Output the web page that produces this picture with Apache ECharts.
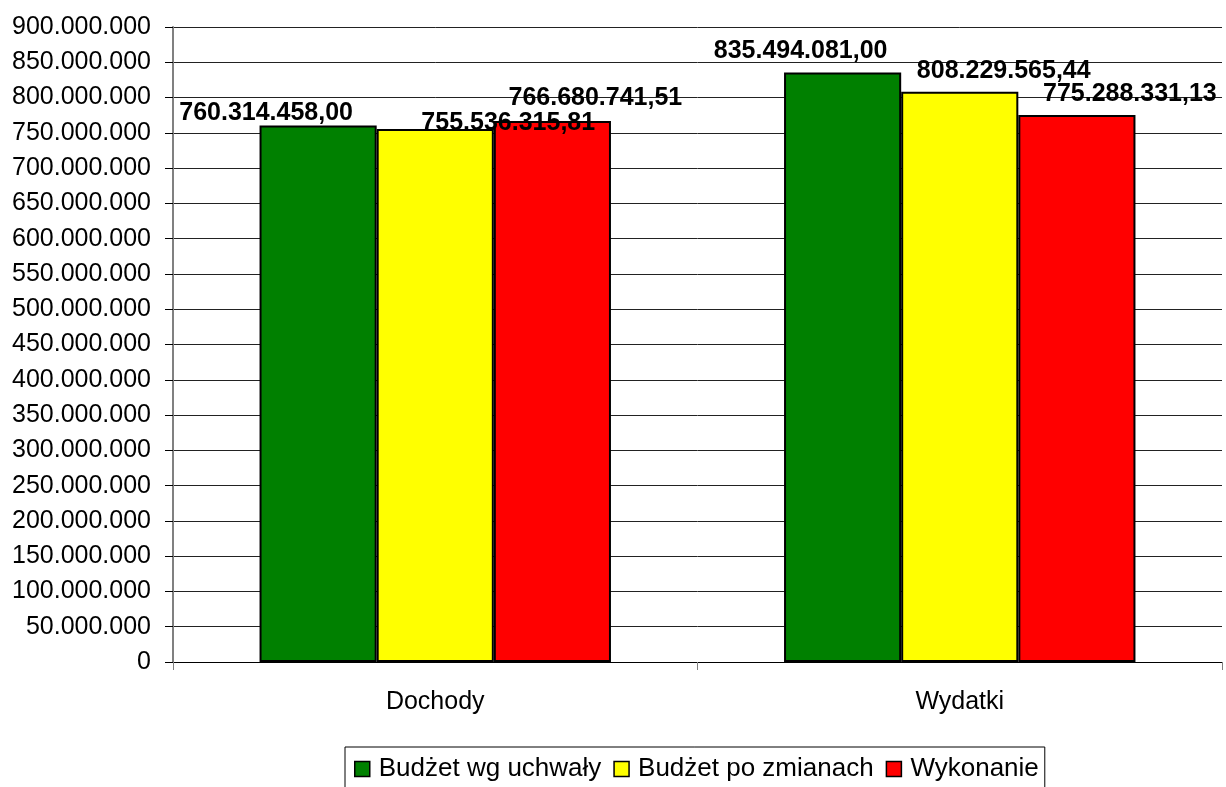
<!DOCTYPE html>
<html><head><meta charset="utf-8">
<script src="https://cdn.jsdelivr.net/npm/echarts@6/dist/echarts.min.js"></script>
<style>html,body{margin:0;padding:0;background:#fff}#c{width:1226px;height:787px}</style>
</head><body><div id="c"></div>
<script>
const categories = ['Dochody', 'Wydatki'];
const seriesNames = ['Budżet wg uchwały', 'Budżet po zmianach', 'Wykonanie'];
const budzetWgUchwaly = [760314458.00, 835494081.00];
const budzetPoZmianach = [755536315.81, 808229565.44];
const wykonanie = [766680741.51, 775288331.13];
const seriesValues = [budzetWgUchwaly, budzetPoZmianach, wykonanie];
const colors = ['#008000', '#FFFF00', '#FF0000'];

// label placement tweaks (layout only), [series][category] -> [dx, dy]
const labelOffsets = [
  [[-52, 0], [-42, -9]],
  [[73, 7], [44, -8]],
  [[43, -10], [53, -8]]
];

function fmtInt(v) {
  return String(Math.round(v)).replace(/\B(?=(\d{3})+(?!\d))/g, '.');
}
function fmtMoney(v) {
  const s = v.toFixed(2).split('.');
  return s[0].replace(/\B(?=(\d{3})+(?!\d))/g, '.') + ',' + s[1];
}

const FONT = '"Liberation Sans", Arial, sans-serif';
const chart = echarts.init(document.getElementById('c'), null, {renderer: 'canvas'});
chart.setOption({
  animation: false,
  backgroundColor: '#fff',
  textStyle: {fontFamily: FONT},
  grid: {left: 173, right: 4, top: 27, bottom: 125, containLabel: false},
  legend: {
    data: seriesNames,
    left: 345, top: 747,
    orient: 'horizontal',
    itemWidth: 15, itemHeight: 15, itemGap: 12,
    icon: 'rect',
    padding: [9, 6, 8, 9],
    borderColor: '#000', borderWidth: 1,
    textStyle: {fontSize: 26, color: '#000', fontFamily: FONT, padding: [0, 0, 0, 4]},
    itemStyle: {borderColor: '#000', borderWidth: 1.5}
  },
  xAxis: {
    type: 'category',
    data: categories,
    axisLine: {show: true, lineStyle: {color: '#000', width: 1}},
    axisTick: {show: true, length: 8, lineStyle: {color: '#808080'}},
    axisLabel: {fontSize: 25, color: '#000', fontFamily: FONT, margin: 28}
  },
  yAxis: {
    type: 'value',
    min: 0, max: 900000000, interval: 50000000,
    axisLine: {show: true, lineStyle: {color: '#808080', width: 2}},
    axisTick: {show: true, length: 8, lineStyle: {color: '#000'}},
    axisLabel: {fontSize: 25, color: '#000', fontFamily: FONT, margin: 22, formatter: v => fmtInt(v)},
    splitLine: {show: true, lineStyle: {color: '#222', width: 1}}
  },
  series: seriesValues.map((vals, si) => ({
    name: seriesNames[si],
    type: 'bar',
    barGap: '0%',
    barCategoryGap: '33%',
    itemStyle: {color: colors[si], borderColor: '#000', borderWidth: 2},
    label: {
      show: true, position: 'top', distance: 0,
      fontSize: 25, fontWeight: 'bold', color: '#000', fontFamily: FONT,
      formatter: p => fmtMoney(p.value)
    },
    data: vals.map((v, ci) => ({value: v, label: {offset: labelOffsets[si][ci]}}))
  }))
});
</script></body></html>
